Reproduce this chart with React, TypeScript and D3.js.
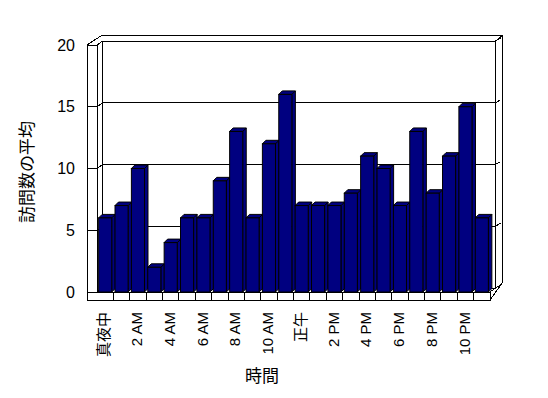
import * as d3 from "d3";
import { useEffect, useRef } from "react";

// hours of the day (24 categories), only every other one gets a label
const categories = [
    "真夜中", "1 AM", "2 AM", "3 AM", "4 AM", "5 AM", "6 AM", "7 AM", "8 AM", "9 AM", "10 AM", "11 AM",
    "正午", "1 PM", "2 PM", "3 PM", "4 PM", "5 PM", "6 PM", "7 PM", "8 PM", "9 PM", "10 PM", "11 PM",
];
const visits = [6, 7, 10, 2, 4, 6, 6, 9, 13, 6, 12, 16, 7, 7, 7, 8, 11, 10, 7, 13, 8, 11, 15, 6];
const yTicks = [0, 5, 10, 15, 20];
const labelled = ["真夜中", "2 AM", "4 AM", "6 AM", "8 AM", "10 AM", "正午", "2 PM", "4 PM", "6 PM", "8 PM", "10 PM"];

const W = 548, H = 398;

const App = () => {
    const ref = useRef<SVGSVGElement | null>(null);

    useEffect(() => {
        if (!ref.current) return;
        const svg = d3.select(ref.current);
        svg.selectAll("*").remove();

        const font = "'Liberation Sans', 'Noto Sans CJK JP', sans-serif";
        const left = 97, right = 490, wallX = 87, floorBottom = 300;
        const dx = 5.5, dy = -4; // floor depth
        const ox = 12.5, oy = -9.5; // depth + wall thickness

        const x = d3.scaleBand<string>().domain(categories).range([left, right])
            .paddingInner(0.2).paddingOuter(0.1);
        const y = d3.scaleLinear().domain([0, 20]).range([292, 45]);
        const step = x.step();
        const boundary = (i: number) => left + i * step;

        const g = svg.append("g")
            .attr("fill", "none").attr("stroke", "#000").attr("stroke-width", 1)
            .attr("shape-rendering", "crispEdges");

        // back wall outline (outer and plot face)
        const path = (pts: [number, number][]) => "M" + pts.map(p => p.join(",")).join("L");
        g.append("path").attr("d", path([
            [wallX, y(20)], [101.5, y(20) + oy], [right + ox, y(20) + oy], [right + ox, y(0) + oy], [right, floorBottom],
        ]));
        g.append("path").attr("d", path([[right + dx, y(20) + dy], [right + ox, y(20) + oy]]));
        g.append("path").attr("d", path([[left + dx, y(20) + dy], [left + dx, y(0) + dy]]));
        g.append("path").attr("d", path([[right + dx, y(20) + dy], [right + dx, y(0) + dy], [right, y(0)]]));

        // gridlines wrapping side wall -> back wall -> wall edge
        yTicks.forEach(v => {
            g.append("path").attr("d", path([
                [wallX, y(v)], [left, y(v)], [left + dx, y(v) + dy], [right + dx, y(v) + dy],
                [right + dx + 5, y(v) + dy - 3],
            ]));
        });

        // side wall front face
        g.append("path").attr("d", path([[wallX, floorBottom], [wallX, y(20)]]));
        g.append("path").attr("d", path([[left, y(0)], [left, y(20)]]));

        // floor front face with category ticks
        g.append("path").attr("d", path([[wallX, floorBottom], [right, floorBottom], [right, y(0)], [left, y(0)]]));
        d3.range(1, categories.length).forEach(i => {
            g.append("path").attr("d", path([[boundary(i), y(0)], [boundary(i), floorBottom]]));
        });

        // 3D bars
        const bd = 3.5;
        const bars = svg.append("g").attr("fill", "#000080").attr("stroke", "#000")
            .attr("stroke-linejoin", "miter");
        categories.forEach((c, i) => {
            const x0 = x(c)!, x1 = x0 + x.bandwidth();
            const yt = y(visits[i]), yb = y(0);
            bars.append("path").attr("d", path([[x1, yb], [x1, yt], [x1 + bd, yt - bd], [x1 + bd, yb - bd]]) + "Z");
            bars.append("path").attr("d", path([[x0, yt], [x0 + bd, yt - bd], [x1 + bd, yt - bd], [x1, yt]]) + "Z");
            bars.append("rect").attr("x", x0).attr("y", yt).attr("width", x1 - x0).attr("height", yb - yt);
        });

        // y axis labels
        svg.append("g").selectAll("text").data(yTicks).join("text")
            .attr("x", 75).attr("y", d => y(d)).attr("dy", "0.35em")
            .attr("text-anchor", "end").attr("font-family", font).attr("font-size", 16)
            .text(d => d);

        // x axis labels (rotated)
        svg.append("g").selectAll("text").data(labelled).join("text")
            .attr("transform", d => `translate(${x(d)! + x.bandwidth() / 2 - 1},312) rotate(-90)`)
            .attr("text-anchor", "end").attr("dy", "0.35em")
            .attr("font-family", font).attr("font-size", 15)
            .text(d => d);

        svg.append("text")
            .attr("transform", "translate(27,172) rotate(-90)")
            .attr("text-anchor", "middle").attr("dy", "0.35em")
            .attr("font-family", font).attr("font-size", 17)
            .text("訪問数の平均");

        svg.append("text")
            .attr("x", 262).attr("y", 376).attr("dy", "0.35em")
            .attr("text-anchor", "middle")
            .attr("font-family", font).attr("font-size", 17)
            .text("時間");
    }, []);

    return (
        <svg ref={ref} width={W} height={H}
            style={{ position: "absolute", left: 0, top: 0, background: "#fff" }} />
    );
};

export default App;
